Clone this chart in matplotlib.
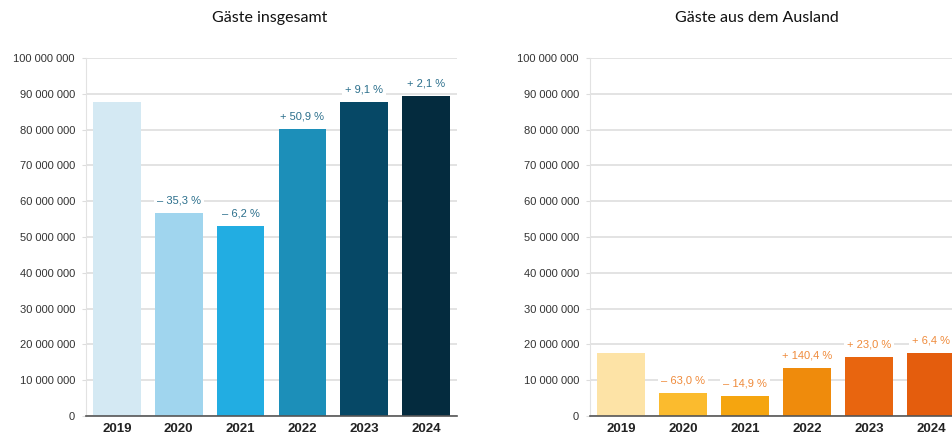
import matplotlib.pyplot as plt

years = ["2019", "2020", "2021", "2022", "2023", "2024"]
gaeste_gesamt = [87.7e6, 56.7e6, 53.2e6, 80.3e6, 87.6e6, 89.4e6]
gaeste_ausland = [17.6e6, 6.5e6, 5.55e6, 13.3e6, 16.4e6, 17.5e6]
labels_gesamt = ["", "– 35,3 %", "– 6,2 %", "+ 50,9 %", "+ 9,1 %", "+ 2,1 %"]
labels_ausland = ["", "– 63,0 %", "– 14,9 %", "+ 140,4 %", "+ 23,0 %", "+ 6,4 %"]
yticks = list(range(0, 100_000_001, 10_000_000))

blues = ["#d4e9f3", "#a0d5ee", "#22ade2", "#1c8fb9", "#064866", "#042b3e"]
oranges = ["#fde3a6", "#fbbb2e", "#f5a50f", "#ef8b0c", "#e8650f", "#e45d0d"]


def fmt(v):
    return f"{v:,}".replace(",", " ")


def draw(ax, values, labels, colors, label_color):
    x = range(len(years))
    ax.bar(x, values, width=0.77, color=colors, zorder=2)
    ax.set_xlim(-0.5, 5.5)
    ax.set_ylim(0, 100_000_000)
    ax.set_yticks(yticks)
    ax.set_yticklabels([fmt(t) for t in yticks], fontsize=8, color="#333333",
                       family="Liberation Sans")
    ax.set_xticks(list(x))
    ax.set_xticklabels(years, fontsize=9.5, fontweight="bold", color="#222222",
                       family="Liberation Sans")
    ax.grid(axis="y", color="#dedede", linewidth=1.2, zorder=0)
    for s in ["top", "right"]:
        ax.spines[s].set_visible(False)
    ax.spines["left"].set_color("#e2e2e2")
    ax.spines["bottom"].set_color("#555555")
    ax.spines["bottom"].set_linewidth(1.2)
    ax.spines["bottom"].set_zorder(3)
    ax.tick_params(axis="y", length=3, color="#dddddd", pad=5)
    ax.tick_params(axis="x", length=0, pad=5)
    for i, (v, lab) in enumerate(zip(values, labels)):
        if lab:
            ax.annotate(lab, (i, v), xytext=(0, 9), textcoords="offset points",
                        ha="center", va="center", fontsize=8, color=label_color,
                        family="Liberation Sans", zorder=4,
                        bbox=dict(boxstyle="square,pad=0.25", fc="white", ec="none"))
    return ax


fig = plt.figure(figsize=(9.53, 4.38), dpi=100)
ax1 = fig.add_axes([86 / 953, 22 / 438, 371 / 953, 358 / 438])
ax2 = fig.add_axes([590 / 953, 22 / 438, 372 / 953, 358 / 438])
draw(ax1, gaeste_gesamt, labels_gesamt, blues, "#2b6f8c")
draw(ax2, gaeste_ausland, labels_ausland, oranges, "#ef8a3a")

fig.text(270 / 953, 1 - 18 / 438, "Gäste insgesamt", ha="center", va="center",
         fontsize=11.5, family="Lato", color="#111111")
fig.text(757 / 953, 1 - 18 / 438, "Gäste aus dem Ausland", ha="center", va="center",
         fontsize=11.5, family="Lato", color="#111111")

plt.savefig("out.png", dpi=100)
plt.close()
